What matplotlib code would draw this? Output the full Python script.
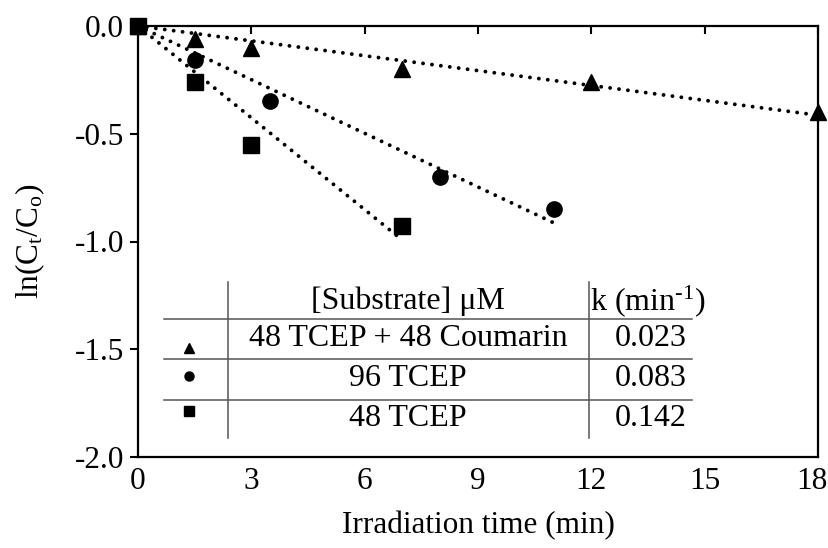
import matplotlib
matplotlib.use("Agg")
import matplotlib.pyplot as plt
import matplotlib.transforms as mtransforms
import numpy as np

plt.rcParams["font.family"] = ["Liberation Serif", "DejaVu Serif"]
plt.rcParams["mathtext.fontset"] = "custom"
plt.rcParams["mathtext.rm"] = "Liberation Serif"
plt.rcParams["mathtext.it"] = "Liberation Serif:italic"

# Kinetic data: ln(Ct/Co) vs irradiation time
t_coumarin = [0, 1.5, 3, 7, 12, 18]
y_coumarin = [0, -0.06, -0.10, -0.20, -0.26, -0.40]

t_96 = [0, 1.5, 3.5, 8, 11]
y_96 = [0, -0.16, -0.35, -0.70, -0.85]

t_48 = [0, 1.5, 3, 7]
y_48 = [0, -0.26, -0.55, -0.93]

# pseudo-first-order rate constants (min^-1)
k_values = [0.023, 0.083, 0.142]
substrates = ["48 TCEP + 48 Coumarin", "96 TCEP", "48 TCEP"]
markers = ["^", "o", "s"]

x_ticks = [0, 3, 6, 9, 12, 15, 18]
y_ticks = [0.0, -0.5, -1.0, -1.5, -2.0]

FS = 22.5
FS_TABLE = 23

fig = plt.figure(figsize=(8.29, 5.48), dpi=100)
ax = fig.add_axes([138/829, 1-457/548, 680/829, 431/548])

series = [(t_coumarin, y_coumarin), (t_96, y_96), (t_48, y_48)]
for (t, y), k in zip(series, k_values):
    tt = np.array([0, t[-1]])
    ax.plot(tt, -k * tt, color="black", lw=2.8, linestyle=(0, (0.01, 2.3)),
            dash_capstyle="round", zorder=2)
for (t, y), m in zip(series, markers):
    ms = 11.5 if m != "o" else 11
    ax.plot(t, y, linestyle="none", marker=m, ms=ms, color="black", zorder=3,
            clip_on=False)

ax.set_xlim(0, 18)
ax.set_ylim(-2.0, 0.0)
ax.set_xticks(x_ticks)
ax.set_xticklabels([str(v) for v in x_ticks])
ax.set_yticks(y_ticks)
ax.set_yticklabels([f"{v:.1f}" for v in y_ticks])

for s in ax.spines.values():
    s.set_linewidth(1.6)
ax.tick_params(axis="x", top=True, bottom=False, direction="in", length=6,
               width=1.5, labelsize=FS, pad=7)
ax.tick_params(axis="y", direction="out", length=6, width=1.5, labelsize=FS, pad=4)

# keep the last x tick label inside the canvas
last = ax.get_xticklabels()[-1]
last.set_transform(last.get_transform() +
                   mtransforms.ScaledTranslation(-6/100, 0, fig.dpi_scale_trans))

ax.set_xlabel("Irradiation time (min)", fontsize=FS, labelpad=11)
ax.set_ylabel(r"ln(C$_{\mathrm{t}}$/C$_{\mathrm{o}}$)", fontsize=FS)
ax.yaxis.set_label_coords((47 - 138) / 680, 0.5)

# inset table of conditions and rate constants
def ax_x(px):
    return (px - 138) / 680

def ax_y(py):
    return (457 - py) / 431

tr = ax.transAxes
grey = "#555555"
ax.plot([ax_x(228)] * 2, [ax_y(282), ax_y(438)], color=grey, lw=1.1, transform=tr)
ax.plot([ax_x(589)] * 2, [ax_y(282), ax_y(438)], color=grey, lw=1.1, transform=tr)
for py in [319, 359, 400]:
    ax.plot([ax_x(164), ax_x(692)], [ax_y(py)] * 2, color=grey, lw=1.1, transform=tr)

ax.text(ax_x(408), ax_y(301), "[Substrate] \u03bcM", fontsize=FS_TABLE, ha="center",
        va="center", transform=tr)
ax.text(ax_x(648), ax_y(301), r"k (min$^{\text{-1}}$)", fontsize=FS_TABLE,
        ha="center", va="center", transform=tr)

row_y = [338, 378, 419]
marker_y = [348, 376, 411]
for ry, my, sub, k, m in zip(row_y, marker_y, substrates, k_values, markers):
    ax.text(ax_x(408), ax_y(ry), sub, fontsize=FS_TABLE, ha="center", va="center",
            transform=tr)
    ax.text(ax_x(651), ax_y(ry), f"{k:.3f}", fontsize=FS_TABLE, ha="center",
            va="center", transform=tr)
    ax.plot([ax_x(189)], [ax_y(my)], marker=m, ms=6.5, color="black",
            linestyle="none", transform=tr)

fig.savefig("out.png", dpi=100)
